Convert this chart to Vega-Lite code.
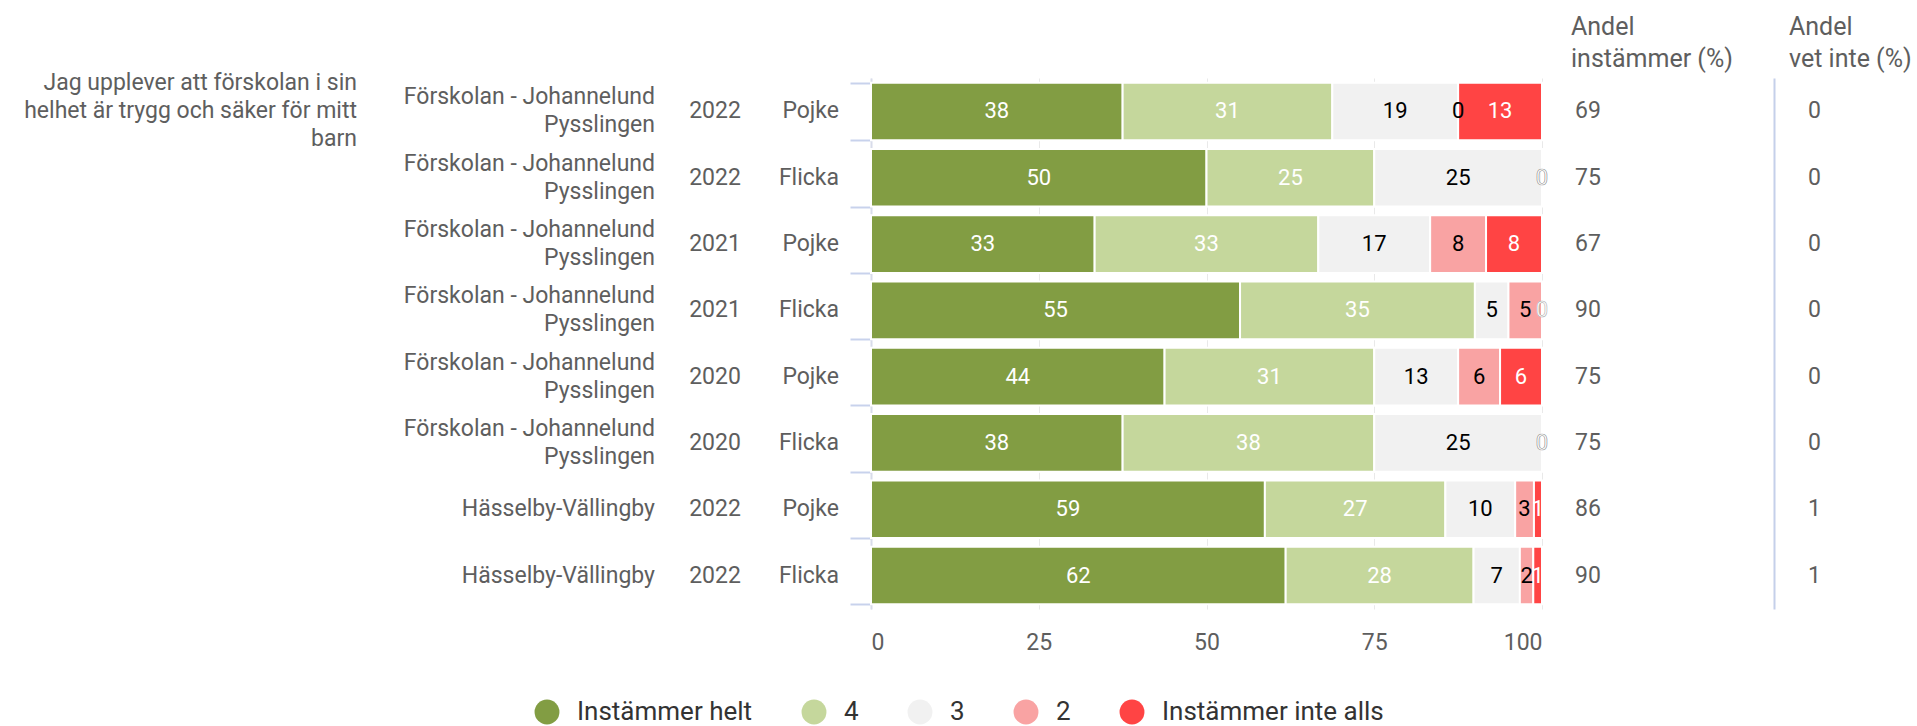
{
  "$schema": "https://vega.github.io/schema/vega-lite/v6.json",
  "padding": {"left": 0, "top": 15, "right": 0, "bottom": 0},
  "bounds": "flush",
  "spacing": 0,
  "config": {
    "view": {"stroke": null},
    "font": "Roboto",
    "legend": {"layout": {"bottom": {"anchor": "middle"}}}
  },
  "datasets": {
    "q": [{"row": 1, "q": "Jag upplever att förskolan i sin\nhelhet är trygg och säker för mitt\nbarn"}],
    "rows": [
      {"row": 1, "school": "Förskolan - Johannelund\nPysslingen", "year": "2022", "gender": "Pojke", "andel": 69, "vetinte": 0},
      {"row": 2, "school": "Förskolan - Johannelund\nPysslingen", "year": "2022", "gender": "Flicka", "andel": 75, "vetinte": 0},
      {"row": 3, "school": "Förskolan - Johannelund\nPysslingen", "year": "2021", "gender": "Pojke", "andel": 67, "vetinte": 0},
      {"row": 4, "school": "Förskolan - Johannelund\nPysslingen", "year": "2021", "gender": "Flicka", "andel": 90, "vetinte": 0},
      {"row": 5, "school": "Förskolan - Johannelund\nPysslingen", "year": "2020", "gender": "Pojke", "andel": 75, "vetinte": 0},
      {"row": 6, "school": "Förskolan - Johannelund\nPysslingen", "year": "2020", "gender": "Flicka", "andel": 75, "vetinte": 0},
      {"row": 7, "school": "Hässelby-Vällingby", "year": "2022", "gender": "Pojke", "andel": 86, "vetinte": 1},
      {"row": 8, "school": "Hässelby-Vällingby", "year": "2022", "gender": "Flicka", "andel": 90, "vetinte": 1}
    ],
    "bars": [
      {"row": 1, "cat": "Instämmer helt", "ord": 1, "value": 37.5},
      {"row": 1, "cat": "4", "ord": 2, "value": 31.25},
      {"row": 1, "cat": "3", "ord": 3, "value": 18.75},
      {"row": 1, "cat": "2", "ord": 4, "value": 0},
      {"row": 1, "cat": "Instämmer inte alls", "ord": 5, "value": 12.5},
      {"row": 2, "cat": "Instämmer helt", "ord": 1, "value": 50},
      {"row": 2, "cat": "4", "ord": 2, "value": 25},
      {"row": 2, "cat": "3", "ord": 3, "value": 25},
      {"row": 2, "cat": "2", "ord": 4, "value": 0},
      {"row": 2, "cat": "Instämmer inte alls", "ord": 5, "value": 0},
      {"row": 3, "cat": "Instämmer helt", "ord": 1, "value": 33.33},
      {"row": 3, "cat": "4", "ord": 2, "value": 33.33},
      {"row": 3, "cat": "3", "ord": 3, "value": 16.67},
      {"row": 3, "cat": "2", "ord": 4, "value": 8.33},
      {"row": 3, "cat": "Instämmer inte alls", "ord": 5, "value": 8.34},
      {"row": 4, "cat": "Instämmer helt", "ord": 1, "value": 55},
      {"row": 4, "cat": "4", "ord": 2, "value": 35},
      {"row": 4, "cat": "3", "ord": 3, "value": 5},
      {"row": 4, "cat": "2", "ord": 4, "value": 5},
      {"row": 4, "cat": "Instämmer inte alls", "ord": 5, "value": 0},
      {"row": 5, "cat": "Instämmer helt", "ord": 1, "value": 43.75},
      {"row": 5, "cat": "4", "ord": 2, "value": 31.25},
      {"row": 5, "cat": "3", "ord": 3, "value": 12.5},
      {"row": 5, "cat": "2", "ord": 4, "value": 6.25},
      {"row": 5, "cat": "Instämmer inte alls", "ord": 5, "value": 6.25},
      {"row": 6, "cat": "Instämmer helt", "ord": 1, "value": 37.5},
      {"row": 6, "cat": "4", "ord": 2, "value": 37.5},
      {"row": 6, "cat": "3", "ord": 3, "value": 25},
      {"row": 6, "cat": "2", "ord": 4, "value": 0},
      {"row": 6, "cat": "Instämmer inte alls", "ord": 5, "value": 0},
      {"row": 7, "cat": "Instämmer helt", "ord": 1, "value": 58.7},
      {"row": 7, "cat": "4", "ord": 2, "value": 26.9},
      {"row": 7, "cat": "3", "ord": 3, "value": 10.4},
      {"row": 7, "cat": "2", "ord": 4, "value": 2.8},
      {"row": 7, "cat": "Instämmer inte alls", "ord": 5, "value": 1.2},
      {"row": 8, "cat": "Instämmer helt", "ord": 1, "value": 61.8},
      {"row": 8, "cat": "4", "ord": 2, "value": 28.0},
      {"row": 8, "cat": "3", "ord": 3, "value": 6.9},
      {"row": 8, "cat": "2", "ord": 4, "value": 2.0},
      {"row": 8, "cat": "Instämmer inte alls", "ord": 5, "value": 1.3}
    ]
  },
  "hconcat": [
    {
      "width": 357, "height": 531,
      "view": {"fill": "white"},
      "data": {"name": "q"},
      "mark": {"type": "text", "align": "right", "baseline": "middle", "lineBreak": "\n", "lineHeight": 28, "fontSize": 23, "color": "#5e5e5e", "dy": -28.5},
      "encoding": {
        "x": {"value": "width"},
        "y": {"field": "row", "type": "ordinal", "scale": {"type": "band", "domain": [1,2,3,4,5,6,7,8], "paddingInner": 0.13, "paddingOuter": 0.07}, "axis": null},
        "text": {"field": "q"}
      }
    },
    {
      "width": 298, "height": 531,
      "data": {"name": "rows"},
      "layer": [
        {
          "transform": [{"filter": "indexof(datum.school, '\\n') >= 0"}],
          "mark": {"type": "text", "align": "right", "baseline": "middle", "lineBreak": "\n", "lineHeight": 28, "fontSize": 23, "color": "#5e5e5e", "dy": -14},
          "encoding": {
            "x": {"value": "width"},
            "y": {"field": "row", "type": "ordinal", "scale": {"type": "band", "domain": [1,2,3,4,5,6,7,8], "paddingInner": 0.13, "paddingOuter": 0.07}, "axis": null},
            "text": {"field": "school"}
          }
        },
        {
          "transform": [{"filter": "indexof(datum.school, '\\n') < 0"}],
          "mark": {"type": "text", "align": "right", "baseline": "middle", "fontSize": 23, "color": "#5e5e5e"},
          "encoding": {
            "x": {"value": "width"},
            "y": {"field": "row", "type": "ordinal", "scale": {"type": "band", "domain": [1,2,3,4,5,6,7,8], "paddingInner": 0.13, "paddingOuter": 0.07}, "axis": null},
            "text": {"field": "school"}
          }
        }
      ]
    },
    {
      "width": 120, "height": 531,
      "data": {"name": "rows"},
      "mark": {"type": "text", "align": "center", "baseline": "middle", "fontSize": 23, "color": "#5e5e5e"},
      "encoding": {
        "y": {"field": "row", "type": "ordinal", "scale": {"type": "band", "domain": [1,2,3,4,5,6,7,8], "paddingInner": 0.13, "paddingOuter": 0.07}, "axis": null},
        "text": {"field": "year"}
      }
    },
    {
      "width": 96, "height": 531,
      "data": {"name": "rows"},
      "mark": {"type": "text", "align": "right", "baseline": "middle", "fontSize": 23, "color": "#5e5e5e", "dx": -32},
      "encoding": {
        "x": {"value": "width"},
        "y": {"field": "row", "type": "ordinal", "scale": {"type": "band", "domain": [1,2,3,4,5,6,7,8], "paddingInner": 0.13, "paddingOuter": 0.07}, "axis": null},
        "text": {"field": "gender"}
      }
    },
    {
      "width": 671, "height": 531,
      "data": {"name": "bars"},
      "layer": [
        {
          "mark": {"type": "bar", "stroke": "white", "strokeWidth": 2},
          "encoding": {
            "x": {"field": "value", "type": "quantitative", "stack": "zero",
                  "scale": {"domain": [0, 100], "nice": false},
                  "axis": {"values": [0, 25, 50, 75, 100], "title": null, "domain": false, "ticks": false, "grid": true, "gridColor": "#e9e9e9", "labelFontSize": 23, "labelColor": "#5e5e5e", "labelPadding": 22}},
            "y": {"field": "row", "type": "ordinal", "scale": {"type": "band", "domain": [1,2,3,4,5,6,7,8], "paddingInner": 0.13, "paddingOuter": 0.07},
                  "axis": {"labels": false, "title": null, "tickBand": "extent", "tickSize": 21, "tickColor": "#c8d2ec", "tickWidth": 2, "domainColor": "#d8dcea", "domainWidth": 2, "grid": false}},
            "color": {"field": "cat", "type": "nominal",
                      "scale": {"domain": ["Instämmer helt", "4", "3", "2", "Instämmer inte alls"], "range": ["#829d43", "#c5d79c", "#f1f1f1", "#f9a3a3", "#ff4444"]},
                      "legend": {"orient": "bottom", "direction": "horizontal", "title": null, "symbolType": "circle", "symbolSize": 620, "symbolStrokeWidth": 0, "labelFontSize": 26, "labelColor": "#333333", "labelLimit": 0, "columnPadding": 48, "labelOffset": 17, "offset": 45}},
            "order": {"field": "ord", "type": "quantitative"}
          }
        },
        {
          "transform": [
            {"stack": "value", "groupby": ["row"], "sort": [{"field": "ord", "order": "ascending"}], "as": ["x0", "x1"]},
            {"calculate": "(datum.x0 + datum.x1) / 2", "as": "mid"}
          ],
          "mark": {"type": "text", "align": "center", "baseline": "middle", "fontSize": 22, "strokeWidth": 0.6},
          "encoding": {
            "x": {"field": "mid", "type": "quantitative"},
            "y": {"field": "row", "type": "ordinal"},
            "text": {"field": "value", "type": "quantitative", "format": ".0f"},
            "color": {"condition": {"test": "datum.cat == '3' || datum.cat == '2'", "value": "#000000"}, "value": "#ffffff"},
            "stroke": {"condition": {"test": "datum.value == 0 && datum.cat == 'Instämmer inte alls'", "value": "#b0b0b0"}, "value": "transparent"}
          }
        }
      ]
    },
    {
      "width": 232, "height": 531,
      "data": {"name": "rows"},
      "title": {"text": ["Andel", "instämmer (%)"], "anchor": "start", "frame": "group", "fontSize": 25, "fontWeight": "normal", "color": "#5e5e5e", "lineHeight": 32, "offset": 6, "dx": 29},
      "mark": {"type": "text", "align": "left", "baseline": "middle", "fontSize": 23, "color": "#5e5e5e", "dx": 33},
      "encoding": {
        "x": {"value": 0},
        "y": {"field": "row", "type": "ordinal", "scale": {"type": "band", "domain": [1,2,3,4,5,6,7,8], "paddingInner": 0.13, "paddingOuter": 0.07}, "axis": null},
        "text": {"field": "andel"}
      }
    },
    {
      "width": 143, "height": 531,
      "data": {"name": "rows"},
      "title": {"text": ["Andel", "vet inte (%)"], "anchor": "start", "frame": "group", "fontSize": 25, "fontWeight": "normal", "color": "#5e5e5e", "lineHeight": 32, "offset": 6, "dx": 15},
      "mark": {"type": "text", "align": "left", "baseline": "middle", "fontSize": 23, "color": "#5e5e5e", "dx": 34},
      "encoding": {
        "x": {"value": 0},
        "y": {"field": "row", "type": "ordinal", "scale": {"type": "band", "domain": [1,2,3,4,5,6,7,8], "paddingInner": 0.13, "paddingOuter": 0.07},
              "axis": {"labels": false, "ticks": false, "title": null, "domainColor": "#c5d0ea", "domainWidth": 2, "grid": false}},
        "text": {"field": "vetinte"}
      }
    }
  ]
}
